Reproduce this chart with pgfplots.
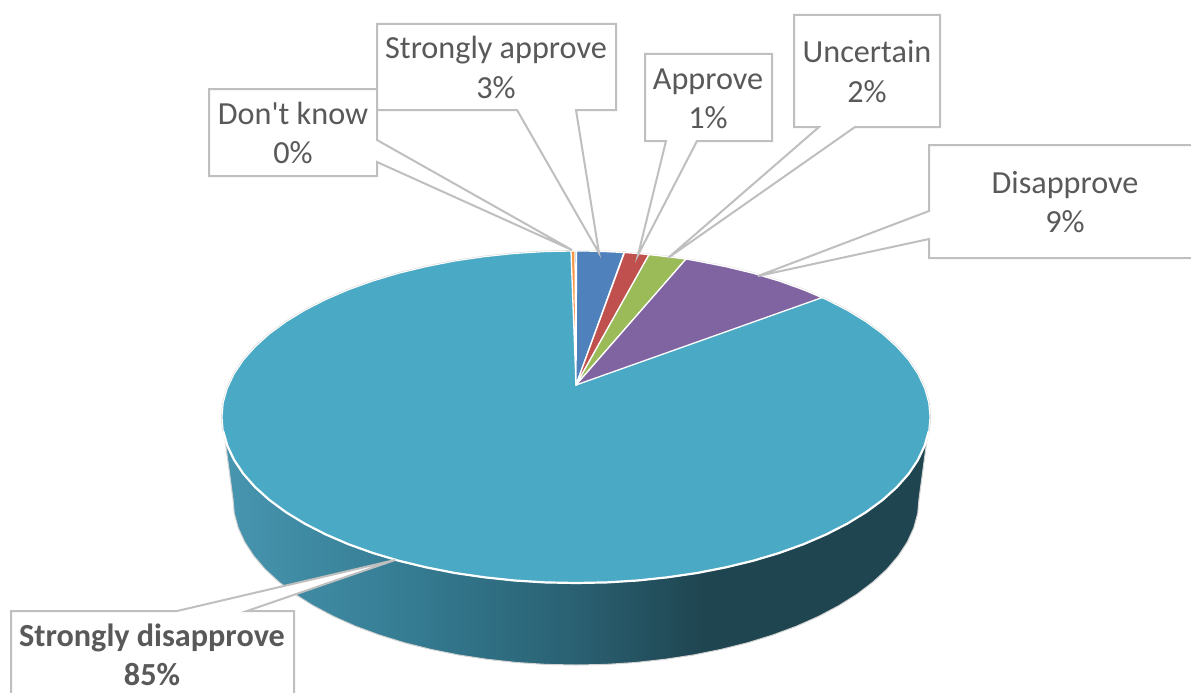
\documentclass[border=0pt]{standalone}
\usepackage{fontspec}
\setmainfont{Carlito}[Ligatures=TeXOff]
\usepackage{pgfplots}
\usepackage{pgfplotstable}
\pgfplotsset{compat=1.18}

\definecolor{pietop}{HTML}{4AA9C4}
\definecolor{sl1}{HTML}{4896B0}
\definecolor{sl2}{HTML}{3F8AA3}
\definecolor{sl3}{HTML}{347A90}
\definecolor{sl4}{HTML}{2A6072}
\definecolor{sl5}{HTML}{1F4550}
\definecolor{txt}{HTML}{595959}
\definecolor{rim}{HTML}{BFBFBF}
\definecolor{acblue}{HTML}{4F81BD}
\definecolor{acred}{HTML}{C0504D}
\definecolor{acgreen}{HTML}{9BBB59}
\definecolor{acpurple}{HTML}{8064A2}
\definecolor{acorange}{HTML}{F79646}
% tikz fits the path bbox into 25bp..75bp
\pgfdeclarehorizontalshading{sidegrad}{100bp}{color(0bp)=(sl1); color(25bp)=(sl1); color(31bp)=(sl2); color(39bp)=(sl3); color(50bp)=(sl4); color(59bp)=(sl5); color(100bp)=(sl5)}

\tikzset{
  box/.style={fill=white, draw=rim, line width=2pt, line join=miter},
  slice/.style={draw=white, line width=1.3pt, line join=round},
  lbl/.style={anchor=base, text=txt, font=\fontsize{32.2}{39}\selectfont},
  lblb/.style={anchor=base, text=txt, font=\fontsize{32.2}{39}\selectfont\bfseries},
}

\pgfplotstableread{
x y
222 417
223.3 402.5
227.4 388.2
234.1 374
243.3 360.2
255.2 346.8
269.4 334
286 321.8
304.8 310.3
325.7 299.6
348.4 289.8
372.9 281
399 273.2
426.4 266.6
454.9 261
484.4 256.7
514.5 253.5
545.1 251.6
576 251
606.9 251.6
637.5 253.5
667.6 256.7
697.1 261
725.6 266.6
753 273.2
779.1 281
803.6 289.8
826.3 299.6
847.2 310.3
866 321.8
882.6 334
896.8 346.8
908.7 360.2
917.9 374
924.6 388.2
928.7 402.5
930 417
928.7 431.5
924.6 445.8
917.9 460
908.7 473.8
896.8 487.2
882.6 500
866 512.2
847.2 523.7
826.3 534.4
803.6 544.2
779.1 553
753 560.8
725.6 567.4
697.1 573
667.6 577.3
637.5 580.5
606.9 582.4
576 583
545.1 582.4
514.5 580.5
484.4 577.3
454.9 573
426.4 567.4
399 560.8
372.9 553
348.4 544.2
325.7 534.4
304.8 523.7
286 512.2
269.4 500
255.2 487.2
243.3 473.8
234.1 460
227.4 445.8
223.3 431.5
}\toprim

\pgfplotstableread{
x y
222 417
233 499
234.3 513.5
238.2 527.8
244.7 542
253.7 555.8
265.1 569.2
279 582
295 594.2
313.3 605.7
333.5 616.4
355.5 626.2
379.3 635
404.5 642.8
431 649.4
458.7 655
487.2 659.3
516.5 662.5
546.1 664.4
576 665
605.9 664.4
635.5 662.5
664.8 659.3
693.3 655
721 649.4
747.5 642.8
772.7 635
796.5 626.2
818.5 616.4
838.7 605.7
857 594.2
873 582
886.9 569.2
898.3 555.8
907.3 542
913.8 527.8
917.7 513.5
919 499
930 417
}\siderim

\begin{document}
\begin{tikzpicture}
% hide axis leaves no frame, so fix the page to the axis box
\path[use as bounding box] (0,0) rectangle (1191pt,693pt);
\begin{axis}[
  at={(0,0)}, anchor=south west,
  scale only axis, width=1191pt, height=693pt,
  xmin=0, xmax=1191, ymin=0, ymax=693, y dir=reverse,
  hide axis, no markers,
]
% pie body
\addplot[draw=rim!70, line width=2pt] table {\toprim} --cycle;
\addplot[shade, shading=sidegrad, draw=rim!70, line width=1pt] table {\siderim} --cycle;
\addplot[fill=pietop, draw=white, line width=1.1pt] table {\toprim} --cycle;
% brighter front edge of the top face
\addplot[draw=white, line width=2.2pt, line cap=round] coordinates {(928.7,431.5) (924.6,445.8) (917.9,460) (908.7,473.8) (896.8,487.2) (882.6,500) (866,512.2) (847.2,523.7) (826.3,534.4) (803.6,544.2) (779.1,553) (753,560.8) (725.6,567.4) (697.1,573) (667.6,577.3) (637.5,580.5) (606.9,582.4) (576,583) (545.1,582.4) (514.5,580.5) (484.4,577.3) (454.9,573) (426.4,567.4) (399,560.8) (372.9,553) (348.4,544.2) (325.7,534.4) (304.8,523.7) (286,512.2) (269.4,500) (255.2,487.2) (243.3,473.8) (234.1,460) (227.4,445.8) (223.3,431.5)};
% top slices
\addplot[slice, fill=acorange] coordinates {(576,385) (571,251.1) (575,251)} --cycle;
\addplot[slice, fill=acblue] coordinates {(576,385) (576.5,251) (590,251.1) (606.9,251.6) (624,252.5)} --cycle;
\addplot[slice, fill=acred] coordinates {(576,385) (624.5,252.5) (637.5,253.5) (649,254.6)} --cycle;
\addplot[slice, fill=acgreen] coordinates {(576,385) (649,254.6) (667.6,256.7) (686,259)} --cycle;
\addplot[slice, fill=acpurple] coordinates {(576,385) (686,259) (697.1,261) (725.6,266.6) (753,273.2) (779.1,281) (803.6,289.8) (822,297.6)} --cycle;
% callouts
\addplot[box] coordinates {(209,89) (377,89) (377,140) (572,250) (377,162) (377,176) (209,176)} --cycle;
\addplot[box] coordinates {(377,24) (616,24) (616,110) (576,110) (599,253) (517,110) (377,110)} --cycle;
\addplot[box] coordinates {(645,54) (772,54) (772,141) (697,141) (638,255) (666,141) (645,141)} --cycle;
\addplot[box] coordinates {(794,15) (940,15) (940,127) (855,127) (668,258) (819,127) (794,127)} --cycle;
\addplot[box] coordinates {(929,145) (1195,145) (1195,258) (929,258) (929,239) (758,276) (929,211)} --cycle;
\addplot[box] coordinates {(11,611) (177,611) (395,560) (247,611) (294,611) (294,698) (11,698)} --cycle;
% label text
\node[lbl] at (axis cs:293,124) {Don't know};
\node[lbl] at (axis cs:293,163) {0\%};
\node[lbl] at (axis cs:496,59) {Strongly approve};
\node[lbl] at (axis cs:496,98) {3\%};
\node[lbl] at (axis cs:708,89) {Approve};
\node[lbl] at (axis cs:708,128) {1\%};
\node[lbl] at (axis cs:867,63) {Uncertain};
\node[lbl] at (axis cs:867,102) {2\%};
\node[lbl] at (axis cs:1065,193) {Disapprove};
\node[lbl] at (axis cs:1065,232) {9\%};
\node[lblb] at (axis cs:152,646) {Strongly disapprove};
\node[lblb] at (axis cs:152,685) {85\%};
\end{axis}
\end{tikzpicture}
\end{document}
